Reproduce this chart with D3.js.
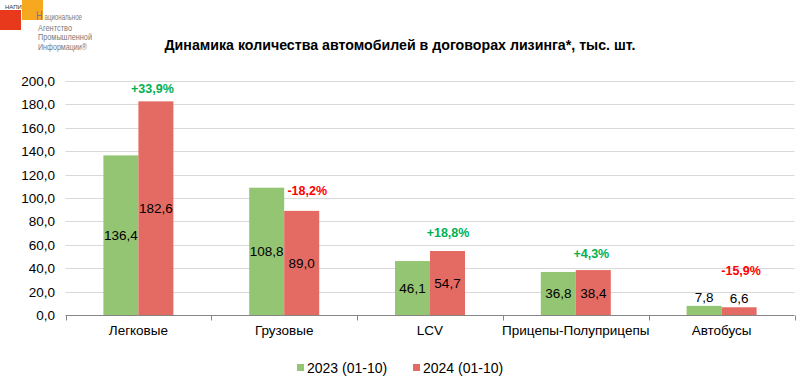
<!DOCTYPE html>
<html><head><meta charset="utf-8">
<script src="https://cdn.jsdelivr.net/npm/d3@7"></script>
<style>body{margin:0;background:#fff}svg{display:block}</style>
</head><body>
<svg id="c" width="800" height="382"></svg>
<script>
const categories = ["Легковые","Грузовые","LCV","Прицепы-Полуприцепы","Автобусы"];
const series2023 = [136.4,108.8,46.1,36.8,7.8];
const series2024 = [182.6,89.0,54.7,38.4,6.6];
const changeLabels = ["+33,9%","-18,2%","+18,8%","+4,3%","-15,9%"];
const seriesNames = ["2023 (01-10)","2024 (01-10)"];
const yTicks = [0,20,40,60,80,100,120,140,160,180,200];

const colors = ["#93C572","#E46B63"];
const pctOffsets = [8,16,14.5,12.5,32];
const pctDx = [-3.5,5.5,0.5,-2,2];
const fmt = v => v.toFixed(1).replace(".", ",");

const svg = d3.select("#c");
const font = "'Liberation Sans', Arial, sans-serif";

// logo
svg.append("rect").attr("x",0).attr("y",10).attr("width",21).attr("height",20).attr("fill","#E8391D");
svg.append("rect").attr("x",22).attr("y",0).attr("width",21).attr("height",20).attr("fill","#F6A91E");
svg.append("text").attr("x",5).attr("y",9).attr("font-family",font).attr("font-size",6).attr("fill","#333").text("НАПИ");
const logoLines = ["Национальное","Агентство","Промышленной","Информации®"];
const logoW = [44,34,54,49];
const logoY = [30.5,40,49.5];
const logo = svg.append("text").attr("font-family",font).attr("font-size",9.5).attr("fill","#7a7a7a");
logo.append("tspan").attr("x",36).attr("y",19.5).attr("font-size",13)
  .attr("textLength",6.5).attr("lengthAdjust","spacingAndGlyphs").text(logoLines[0].slice(0,1));
logo.append("tspan").attr("x",44.5).attr("y",19.5)
  .attr("textLength",logoW[0]-6.5).attr("lengthAdjust","spacingAndGlyphs").text(logoLines[0].slice(1));
logoLines.slice(1).forEach((l,i)=>{
  logo.append("tspan").attr("x",38).attr("y",logoY[i])
    .attr("textLength",logoW[i+1]).attr("lengthAdjust","spacingAndGlyphs").text(l);
});

// title
svg.append("text").attr("x",400).attr("y",50).attr("text-anchor","middle")
  .attr("font-family",font).attr("font-weight","bold").attr("font-size",14.2).attr("fill","#000")
  .text("Динамика количества автомобилей в договорах лизинга*, тыс. шт.");

const y = d3.scaleLinear().domain([0,200]).range([315,81]);
const x = d3.scaleBand().domain(categories).range([65.5,794.5]).padding(0);
const inner = d3.scaleBand().domain([0,1]).range([-35,35]);

// grid
svg.append("g").selectAll("line").data(yTicks.slice(1)).join("line")
  .attr("x1",65.5).attr("x2",794.5).attr("y1",d=>Math.round(y(d))+0.5).attr("y2",d=>Math.round(y(d))+0.5)
  .attr("stroke","#D9D9D9").attr("stroke-width",1);

// y labels
svg.append("g").selectAll("text").data(yTicks).join("text")
  .attr("x",55).attr("y",d=>y(d)+5).attr("text-anchor","end")
  .attr("font-family",font).attr("font-size",13.5).attr("fill","#000").text(d=>fmt(d));

// bars
const data = categories.map((c,i)=>({c,i,vals:[series2023[i],series2024[i]]}));
const groups = svg.append("g").selectAll("g").data(data).join("g")
  .attr("transform",d=>`translate(${x(d.c)+x.bandwidth()/2},0)`);
groups.selectAll("rect").data(d=>d.vals.map((v,k)=>({v,k}))).join("rect")
  .attr("x",d=>inner(d.k)).attr("width",inner.bandwidth())
  .attr("y",d=>y(d.v)).attr("height",d=>y(0)-y(d.v)).attr("fill",d=>colors[d.k]);

// value labels
groups.selectAll("text.v").data(d=>d.vals.map((v,k)=>({v,k}))).join("text").attr("class","v")
  .attr("x",d=>inner(d.k)+inner.bandwidth()/2)
  .attr("y",d=> (y(0)-y(d.v))<25 ? y(d.v)-4 : (y(d.v)+y(0))/2+5)
  .attr("text-anchor","middle").attr("font-family",font).attr("font-size",13.5).attr("fill","#000")
  .text(d=>fmt(d.v));

// pct labels
groups.append("text")
  .attr("x",d=>inner(1)+inner.bandwidth()/2+pctDx[d.i])
  .attr("y",d=>y(d.vals[1])-pctOffsets[d.i])
  .attr("text-anchor","middle").attr("font-family",font).attr("font-weight","bold").attr("font-size",12.5)
  .attr("fill",d=>changeLabels[d.i].startsWith("+")?"#00B050":"#FF0000")
  .text(d=>changeLabels[d.i]);

// x axis
const ax = svg.append("g").attr("transform","translate(0,315.5)");
ax.append("line").attr("x1",65.5).attr("x2",794.5).attr("stroke","#868686");
const tickPos = categories.map(c=>x(c)).concat([x.range()[1]]);
ax.selectAll("line.t").data(tickPos).join("line").attr("class","t")
  .attr("x1",d=>Math.round(d)+0.5).attr("x2",d=>Math.round(d)+0.5).attr("y1",0).attr("y2",5).attr("stroke","#868686");
ax.selectAll("text").data(categories).join("text")
  .attr("x",d=>x(d)+x.bandwidth()/2).attr("y",19).attr("text-anchor","middle")
  .attr("font-family",font).attr("font-size",13.5).attr("fill","#000").text(d=>d);

// legend
const leg = svg.append("g");
const legX = [297,413];
seriesNames.forEach((n,k)=>{
  leg.append("rect").attr("x",legX[k]).attr("y",364).attr("width",7).attr("height",7).attr("fill",colors[k]);
  leg.append("text").attr("x",legX[k]+10).attr("y",372.5).attr("font-family",font).attr("font-size",14).attr("fill","#000").text(n);
});
</script>
</body></html>
